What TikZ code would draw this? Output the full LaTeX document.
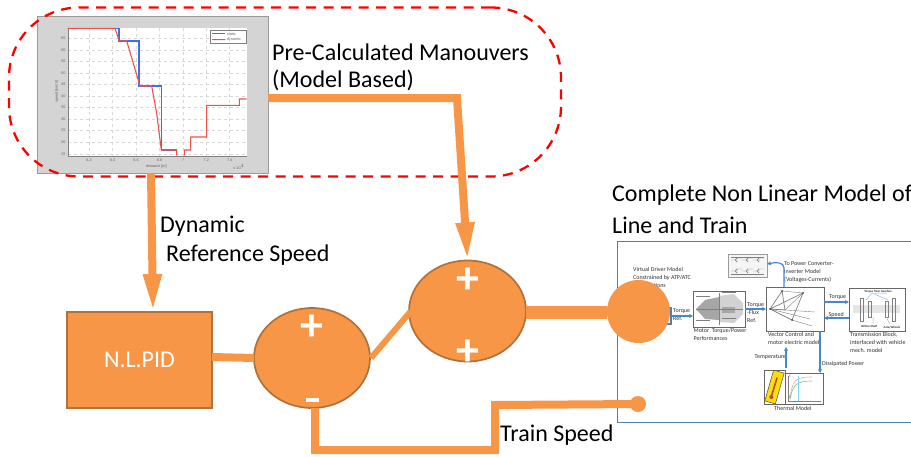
\documentclass[tikz,border=0pt]{standalone}
\usepackage{fontspec}
\setmainfont{Carlito}
\newfontfamily\chartfont{Liberation Sans}
\usetikzlibrary{arrows.meta,shapes.geometric,calc}
\definecolor{acc}{HTML}{F79646}
\definecolor{accdark}{HTML}{B0723A}
\definecolor{modelblue}{HTML}{4F7FB5}
\definecolor{linkblue}{HTML}{4A86D0}
\definecolor{boxgrey}{HTML}{D4D4D4}
\definecolor{edgegrey}{HTML}{9A9A9A}
\definecolor{darkgrey}{HTML}{666666}
\definecolor{txt}{HTML}{303030}
\definecolor{chartred}{HTML}{F0524A}
\definecolor{chartblue}{HTML}{3F6FE8}
\definecolor{gridgrey}{HTML}{D8D8D8}
\definecolor{mercury}{HTML}{A8483A}
\tikzset{
  wire/.style={draw=acc,line width=#1,line join=miter},
  wire/.default=8pt,
  bigarrow/.style={draw=acc,line width=8pt,-{Triangle[length=38pt,width=17pt,fill=acc]}},
  pidbox/.style={draw=accdark,fill=acc,line width=1.7pt,inner sep=0,outer sep=0,text=white},
  sumnode/.style={ellipse,draw=accdark,fill=acc,line width=1.7pt,inner sep=0,outer sep=0},
  dotnode/.style={circle,fill=acc,inner sep=0,outer sep=0},
  label/.style={font=\fontsize{24}{28}\selectfont,anchor=west,inner sep=0,text=black},
  sign/.style={font=\bfseries\fontsize{46}{46}\selectfont,text=white,inner sep=0},
  small/.style={font=\fontsize{6}{8}\selectfont,text=txt,inner sep=0,anchor=north west,align=left},
  imgbox/.style={draw=darkgrey,fill=white,line width=0.9pt,inner sep=0,outer sep=0},
  link/.style={draw=linkblue,line width=1.2pt,-{Stealth[length=4pt,width=4pt]}},
  sketch/.style={draw=gray,line width=0.4pt},
  tick/.style={font=\chartfont\fontsize{3.8}{4.5}\selectfont,text=darkgrey,inner sep=0},
  redtrace/.style={draw=chartred,line width=1.1pt,line join=miter},
  bluetrace/.style={draw=chartblue,line width=1.2pt,line join=miter}
}
\begin{document}
\begin{tikzpicture}[x=1pt,y=-1pt]
\useasboundingbox (0,0) rectangle (911,456);

% ---- chart
\node[draw=edgegrey,fill=boxgrey,line width=0.7pt,minimum width=231pt,minimum height=157pt,inner sep=0,outer sep=0] (chart) at (152.5,94.5) {};
\begin{scope}[x=0.33333pt,y=-0.33333pt]
  \fill[white] (203,85) rectangle (740,468);
  \foreach \gx in {267,338,408,479,549,619,689}
    \draw[gridgrey,dashed,line width=0.4pt] (\gx,85) -- (\gx,468);
  \foreach \gy in {116,150,185,219,254,289,323,358,392,427,462}
    \draw[gridgrey,dashed,line width=0.4pt] (203,\gy) -- (740,\gy);
  \draw[gray,line width=0.3pt] (203,468) -- (740,468) (203,85) -- (203,468);
  \foreach \gx/\lab in {267/6.2,338/6.4,408/6.6,479/6.8,549/7,619/7.2,689/7.4}
    \node[tick] at (\gx,481) {\lab};
  \foreach \gy/\lab in {116/65,150/60,185/55,219/50,254/45,289/40,323/35,358/30,392/25,427/20,462/15}
    \node[tick] at (190,\gy) {\lab};
  \node[tick] at (469,499) {distance [m]};
  \node[tick] at (717,500) {x 10$^{4}$};
  \node[tick,rotate=90] at (171,275) {speed [km/h]};
  \draw[gray,fill=white,line width=0.3pt] (631,90) rectangle (737,129);
  \node[tick,anchor=west] at (680,101) {static};
  \node[tick,anchor=west] at (680,119) {dynamic};
  \path[bluetrace] (203,85) -- (357,85) -- (357,123) -- (417,123) -- (417,258) -- (484,258) -- (484,450) -- (530,450)
     (636,101) -- (676,101);
  \path[redtrace] (203,85) -- (345,85) -- (358,123) -- (380,123) -- (400,190) -- (420,258) -- (455,258) -- (470,340) -- (484,450) -- (530,450) -- (530,467)
     (553,467) -- (553,450) -- (572,450) -- (572,411) -- (620,411) -- (620,316) -- (718,316) -- (718,297) -- (740,297)
     (636,119) -- (676,119);
\end{scope}

% ---- dashed outline
\node[draw=red,dash pattern=on 10pt off 7.5pt,line width=2.3pt,rounded corners=70pt,minimum width=552pt,minimum height=169pt,inner sep=0,outer sep=0] (precalc) at (285,92) {};

% ---- model panel
\node[draw=modelblue,fill=white,line width=1pt,minimum width=302pt,minimum height=181pt,inner sep=0,outer sep=0] (model) at (768,331.5) {};

% ---- sub-images of the model
\node[imgbox,minimum width=52pt,minimum height=36pt] (motor) at (719,309) {};
\node[imgbox,minimum width=58pt,minimum height=44pt] (vector) at (795,309) {};
\node[imgbox,minimum width=56pt,minimum height=43pt] (trans) at (877,309.5) {};
\node[draw=edgegrey,fill=gray!8,line width=0.9pt,inner sep=0,outer sep=0,minimum width=39pt,minimum height=23pt] (conv) at (747.5,265.5) {};
\node[imgbox,minimum width=21pt,minimum height=34pt] (thermo) at (774.5,387) {};
\node[imgbox,minimum width=38pt,minimum height=31pt] (graph) at (804,388.5) {};
\node[draw=modelblue,line width=1.2pt,fill=white,minimum width=10pt,minimum height=16pt,inner sep=0,outer sep=0] (driver) at (666,316) {};

% motor map
\fill[gray!70] (696,309) -- (705,300) -- (719,297) -- (719,320) -- (705,319) -- cycle;
\fill[gray!35] (719,296) -- (734,294) -- (743,303) -- (743,314) -- (734,323) -- (719,322) -- cycle;
\fill[gray!70] (722,307) rectangle (735,313);
\draw[sketch] (696,309) -- (743,309) (719,293) -- (719,325);
\foreach \a/\b in {696/296,722/292,722/318,696/320}
  \draw[gray,line width=0.8pt] (\a,\b) -- +(14,0);

% vector diagram
\draw[sketch,line width=0.7pt] (770,309) -- (782,291) -- (785,310) -- cycle (770,309) -- (803,293) -- (792,320) -- cycle;
\draw[sketch] (785,310) -- (803,293) (782,291) -- (803,293) (770,309) -- (815,312) (792,320) -- (812,326) (770,309) -- (810,319);
\foreach \a/\b in {770/309,782/291,803/293,792/320}
  \fill[black!70] (\a,\b) circle (1pt);

% transmission sketch
\fill[gray!20] (853,305) rectangle (900,313);
\draw[sketch,line width=0.8pt] (860,298) rectangle (863,321) (892,298) rectangle (895,321) (868,301) rectangle (871,317) (885,301) rectangle (888,317);
\draw[linkblue!60,line width=0.5pt] (866,300) -- (872,293) -- (888,300) (875,293) -- (887,293) (873,317) -- (873,323) (886,317) -- (890,324);
\node[font=\bfseries\fontsize{3.1}{4}\selectfont,text=txt,inner sep=0] (tlabel) at (878,291.5) {Torque from Gearbox};
\node[font=\bfseries\fontsize{3.1}{4}\selectfont,text=txt,inner sep=0] (hlabel) at (869,326) {Hollow Shaft};
\node[font=\bfseries\fontsize{3.1}{4}\selectfont,text=txt,inner sep=0] (alabel) at (892,327) {Axle/Wheels};

% converter sketch
\foreach \yy in {260,271}
  \foreach \xx in {731,742,753}
    \draw[sketch] (\xx,\yy) -- +(4,0) -- +(6,-2) -- +(6,2) -- +(4,0) +(6,-2) -- +(11,-2);
\draw[sketch] (731,257) -- (764,257) (731,274) -- (764,274);

% thermometer
\node[draw=black!70,fill=yellow!80!orange,rotate=-16,minimum width=11pt,minimum height=32pt,inner sep=0,line width=0.5pt] (thermoimg) at (774.5,387) {};
\draw[mercury,line width=1.5pt,line cap=round] (771.5,396) -- (777,378);
\fill[mercury] (771.3,397) circle (2pt);

% temperature curves
\draw[gray,line width=0.5pt] (788,376) -- (788,401) -- (821,401);
\draw[red!35,line width=0.6pt] (790,400) .. controls (792,380) and (795,377) .. (812,377);
\draw[green!50!black!50,line width=0.6pt] (790,399) .. controls (793,385) and (796,381) .. (812,381);
\draw[cyan!50,line width=0.5pt] (798,376) -- (798,401);
\node[font=\fontsize{3.4}{4}\selectfont,text=txt,inner sep=0] (tm1) at (790,376) {T};
\node[font=\fontsize{3.4}{4}\selectfont,text=txt,inner sep=0] (tm2) at (790,397) {T};

% model texts
\node[small] (drvtext) at (633,267.5) {Virtual Driver Model\\Constrained by ATP/ATC\\\hspace*{9pt}Functions};
\node[small] (tref) at (673,308) {Torque\\Ref.};
\node[small] (mtext) at (693.5,328.5) {Motor\ \ Torque/Power\\Performances};
\node[small] (ftext) at (747,302) {Torque\\-Flux\\Ref.};
\node[small] (ctext) at (784,261) {To Power Converter-\\Inverter Model\\(Voltages-Currents)};
\node[small] (vtext) at (768,332.5) {Vector Control and\\motor electric model};
\node[small] (ttext) at (850,332.5) {Transmission Block,\\interfaced with vehicle\\mech. model};
\node[small] (temptext) at (754.5,354) {Temperature};
\node[small] (disstext) at (822,361) {Dissipated Power};
\node[small] (thtext) at (774,406) {Thermal Model};
\node[small] (tqtext) at (829,294.5) {Torque};
\node[small] (sptext) at (828.5,312) {Speed};

% model links
\coordinate (tempfrom) at (786,368);
\coordinate (tempto) at (786,347);
\coordinate (convfrom) at (784,268);
\draw[link] (driver.east) -- (motor.west |- driver.east);
\draw[link] (motor.east) -- (vector.west);
\draw[link] (vector.east |- 0,302) -- (trans.west |- 0,302);
\draw[link] (trans.west |- 0,318) -- (vector.east |- 0,318);
\draw[link] (vector.south -| 820,0) -- (graph.north -| 820,0);
\draw[link] (tempfrom) -- (tempto);
\draw[link] (vector.north -| convfrom) -- (convfrom) .. controls (784,262) and (776,262) .. (conv.east |- 0,264);

% ---- main blocks
\node[pidbox,font=\fontsize{24}{26}\selectfont,minimum width=145pt,minimum height=96pt] (pid) at (139.5,360) {N.L.PID};
\node[sumnode,minimum width=116pt,minimum height=100pt] (suma) at (312,358) {};
\node[sumnode,minimum width=117pt,minimum height=101pt] (sumb) at (467.5,311) {};
\node[dotnode,minimum size=63pt] (plant) at (638.5,311.5) {};
\node[dotnode,minimum size=16pt] (sense) at (638,404) {};

\node[sign] (p1) at (312,328) {+};
\node[sign] (p2) at (467.5,281) {+};
\node[sign] (p3) at (467.5,353) {+};
\draw[white,line width=3.2pt] (306,400) -- (318.5,400);
\coordinate (minusmark) at (312,400);

% ---- orange connectors
\coordinate (topcorner) at (457,98);
\coordinate (midin) at (411,311);
\coordinate (midout) at (371,358);
\coordinate (fbA) at (315,450);
\coordinate (fbB) at (495,450);
\coordinate (fbC) at (495,405);
\draw[bigarrow] (chart.east |- topcorner) -- (topcorner) -- (sumb.north);
\draw[bigarrow] (chart.south -| 151,0) -- (pid.north -| 153,0);
\draw[wire=8pt] (pid.east |- 0,357) -- (suma.west |- 0,358);
\draw[wire=6pt] (midout) -- (midin);
\draw[wire=13pt] (sumb.east |- 0,312) -- (plant.west |- 0,312);
\draw[wire=8pt] (suma.south -| 315,0) -- (fbA) -- (fbB) -- (fbC) -- (sense.center);

% ---- labels
\node[label] (l1) at (272,52) {Pre-Calculated Manouvers};
\node[label] (l2) at (272,80) {(Model Based)};
\node[label] (l3) at (160,226) {Dynamic};
\node[label] (l4) at (166,255) {Reference Speed};
\node[label] (l5) at (612,195) {Complete Non Linear Model of};
\node[label] (l6) at (612,225) {Line and Train};
\node[label] (l7) at (500,435) {Train Speed};
\end{tikzpicture}
\end{document}
